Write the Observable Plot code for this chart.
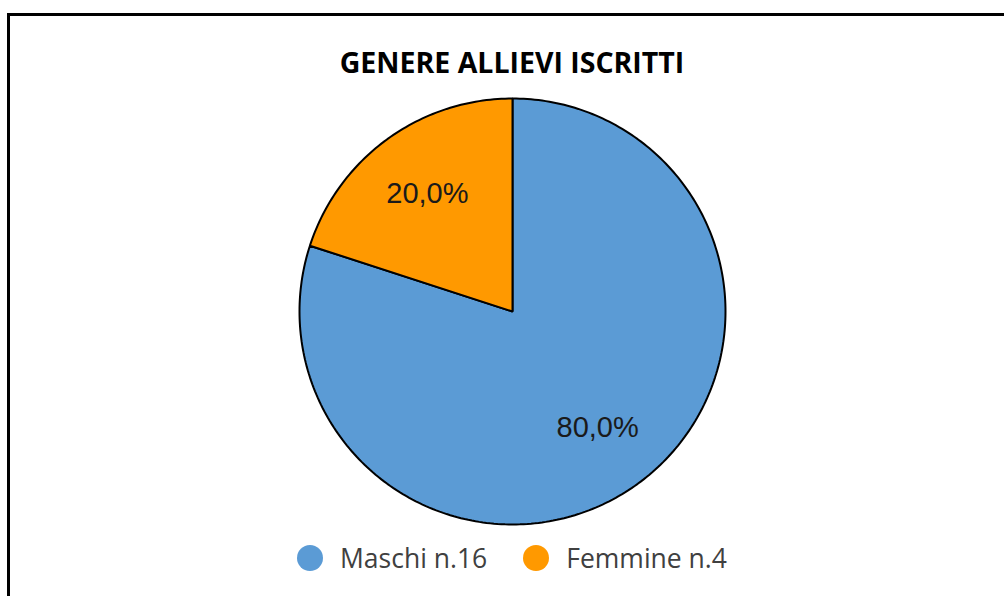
<!DOCTYPE html>
<html>
<head>
<meta charset="utf-8">
<script src="https://cdn.jsdelivr.net/npm/d3@7"></script>
<script src="https://cdn.jsdelivr.net/npm/@observablehq/plot@0.6"></script>
<style>
  html, body { margin: 0; padding: 0; background: #fff; }
  #wrap { position: relative; width: 1004px; height: 596px; overflow: hidden; background: #fff; }
  #frame { position: absolute; left: 7px; top: 13px; width: 1100px; height: 700px; border: 3px solid #000; box-sizing: border-box; }
  #title { position: absolute; left: 10px; width: 1004px; top: 42px; text-align: center;
           font-family: "Open Sans", sans-serif; font-weight: bold; font-size: 28.5px; color: #000; line-height: 40px; }
  #chart { position: absolute; left: 0; top: 80px; }
  #legend { position: absolute; left: 10px; width: 1004px; top: 540px; height: 36px; display: flex; justify-content: center; align-items: center;
            font-family: "Open Sans", sans-serif; font-size: 26.5px; color: #404040; }
  .item { display: flex; align-items: center; margin: 0 18px 0 18px; }
  .sw { width: 26px; height: 26px; border-radius: 50%; margin-right: 17px; }
</style>
</head>
<body>
<div id="wrap">
  <div id="frame"></div>
  <div id="title"></div>
  <div id="chart"></div>
  <div id="legend"></div>
</div>
<script>
const titleText = "GENERE ALLIEVI ISCRITTI";
const categories = ["Maschi", "Femmine"];
const counts = [16, 4];
const legendLabels = ["Maschi n.16", "Femmine n.4"];
const pctLabels = ["80,0%", "20,0%"];
const colors = ["#5B9BD5", "#FF9900"];

document.getElementById("title").textContent = titleText;

const W = 1004, H = 455, cx = 512, cy = 231, R = 213;
const total = d3.sum(counts);

// build slice outlines (angle clockwise from 12 o'clock)
const slicePts = [];
const labelPts = [];
let start = 0;
categories.forEach((c, i) => {
  const a0 = start, a1 = start + counts[i] / total * 2 * Math.PI;
  slicePts.push({cat: c, x: 0, y: 0});
  const n = Math.max(2, Math.ceil((a1 - a0) / (Math.PI / 180)));
  for (let k = 0; k <= n; k++) {
    const a = a0 + (a1 - a0) * k / n;
    slicePts.push({cat: c, x: Math.sin(a), y: Math.cos(a)});
  }
  const m = (a0 + a1) / 2;
  labelPts.push({cat: c, label: pctLabels[i], x: 0.68 * Math.sin(m), y: 0.68 * Math.cos(m)});
  start = a1;
});

const chart = Plot.plot({
  width: W, height: H,
  margin: 0,
  x: {domain: [-cx / R, (W - cx) / R], axis: null},
  y: {domain: [-(H - cy) / R, cy / R], axis: null},
  color: {domain: categories, range: colors},
  marks: [
    Plot.line(slicePts, {x: "x", y: "y", z: "cat", fill: "cat", stroke: "#000", strokeWidth: 2, curve: "linear-closed", strokeLinejoin: "miter"}),
    Plot.text(labelPts, {x: "x", y: "y", dy: -1, text: "label", fontSize: 29, fontFamily: "Liberation Sans, Arial, sans-serif", fill: "#1a1a1a"})
  ]
});
document.getElementById("chart").appendChild(chart);

const leg = document.getElementById("legend");
categories.forEach((c, i) => {
  const it = document.createElement("div"); it.className = "item";
  const sw = document.createElement("div"); sw.className = "sw"; sw.style.background = colors[i];
  const tx = document.createElement("span"); tx.textContent = legendLabels[i];
  it.appendChild(sw); it.appendChild(tx); leg.appendChild(it);
});
</script>
</body>
</html>
